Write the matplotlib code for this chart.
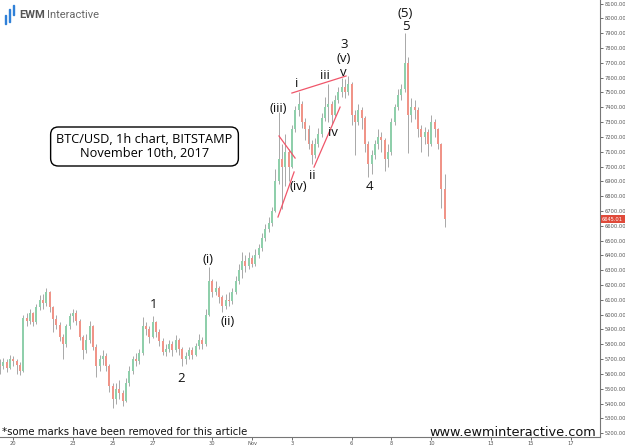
import matplotlib
matplotlib.use("Agg")
import matplotlib.pyplot as plt
import matplotlib.dates as mdates
import pandas as pd
import numpy as np

first_open = 5660
closes = [5650, 5680, 5640, 5700, 5690, 5660, 5620, 5980, 5960, 6010,
          5950, 6050, 6100, 6080, 6150, 6050, 5970, 5930, 5850, 5800,
          5920, 5990, 6010, 5960, 5850, 5760, 5830, 5920, 5780, 5650,
          5700, 5720, 5650, 5520, 5430, 5500, 5470, 5420, 5540, 5620,
          5700, 5690, 5740, 5920, 5900, 5850, 5950, 5880, 5820, 5750,
          5770, 5800, 5760, 5830, 5770, 5700, 5720, 5760, 5730, 5790,
          5830, 5800, 6000, 6230, 6150, 6180, 6120, 6060, 6100, 6090,
          6150, 6230, 6300, 6360, 6330, 6380, 6340, 6400, 6450, 6520,
          6580, 6620, 6700, 6900, 7050, 7000, 7100, 7000, 7250, 7380,
          7420, 7300, 7250, 7150, 7080, 7150, 7220, 7330, 7400, 7420,
          7350, 7450, 7500, 7540, 7500, 7560, 7350, 7300, 7380, 7330,
          7150, 7020, 7080, 7150, 7200, 7180, 7050, 7100, 7300, 7400,
          7480, 7520, 7700, 7350, 7400, 7380, 7250, 7200, 7230, 7150,
          7300, 7250, 7150, 6850, 6645]
highs = [5700, 5710, 5700, 5730, 5720, 5700, 5680, 6000, 6010, 6040,
         6020, 6070, 6130, 6140, 6180, 6160, 6060, 6000, 5950, 5870,
         5940, 6010, 6040, 6030, 5970, 5860, 5870, 5960, 5930, 5800,
         5730, 5760, 5740, 5670, 5540, 5540, 5560, 5490, 5570, 5650,
         5720, 5740, 5770, 5985, 5950, 5920, 5990, 5960, 5900, 5840,
         5800, 5830, 5820, 5860, 5840, 5780, 5750, 5780, 5780, 5810,
         5870, 5850, 6040, 6320, 6240, 6230, 6190, 6130, 6140, 6150,
         6180, 6260, 6340, 6420, 6400, 6420, 6400, 6440, 6480, 6550,
         6610, 6660, 6730, 6980, 7370, 7150, 7220, 7120, 7280, 7410,
         7500, 7440, 7330, 7280, 7180, 7190, 7260, 7360, 7470, 7560,
         7440, 7480, 7540, 7600, 7590, 7610, 7570, 7380, 7420, 7400,
         7340, 7170, 7110, 7180, 7250, 7230, 7190, 7150, 7330, 7420,
         7520, 7560, 7900, 7740, 7460, 7450, 7400, 7280, 7270, 7250,
         7350, 7320, 7260, 7160, 6950]
lows = [5600, 5630, 5610, 5630, 5650, 5600, 5590, 5610, 5920, 5940,
        5920, 5940, 6030, 6040, 6060, 6020, 5880, 5900, 5820, 5700,
        5780, 5900, 5950, 5930, 5830, 5700, 5740, 5810, 5760, 5580,
        5620, 5660, 5620, 5480, 5370, 5400, 5430, 5380, 5410, 5520,
        5600, 5650, 5670, 5730, 5860, 5810, 5840, 5850, 5790, 5730,
        5720, 5750, 5720, 5750, 5730, 5650, 5670, 5700, 5700, 5720,
        5770, 5770, 5790, 5990, 6120, 6130, 6080, 6020, 6040, 6060,
        6070, 6140, 6210, 6250, 6290, 6310, 6320, 6330, 6380, 6430,
        6500, 6560, 6600, 6690, 6880, 6710, 6870, 6900, 6990, 7230,
        7340, 7260, 7180, 7120, 7015, 7060, 7130, 7200, 7310, 7300,
        7290, 7340, 7430, 7470, 7460, 7480, 7280, 7080, 7280, 7250,
        7100, 6930, 6950, 7050, 7120, 7100, 6970, 7000, 7080, 7280,
        7380, 7450, 7500, 7090, 7300, 7320, 7200, 7100, 7150, 7070,
        7140, 7200, 7120, 6720, 6590]
last_price = "6645.01"

tick_days = ["2017-10-20", "2017-10-23", "2017-10-25", "2017-10-27", "2017-10-30",
             "2017-11-01", "2017-11-03", "2017-11-06", "2017-11-08", "2017-11-10",
             "2017-11-13", "2017-11-15", "2017-11-17"]
tick_labels = ["20", "23", "25", "27", "30", "Nov", "3", "6", "8", "10", "13", "15", "17"]
price_ticks = list(range(5200, 8101, 100))

wave_labels = ["1", "2", "(i)", "(ii)", "(iii)", "(iv)", "i", "ii", "iii", "iv",
               "v", "(v)", "3", "4", "5", "(5)"]
wave_times = ["2017-10-27 01:00", "2017-10-28 11:00", "2017-10-29 18:30", "2017-10-30 19:00",
              "2017-11-02 07:40", "2017-11-03 07:40", "2017-11-03 05:45", "2017-11-04 00:45",
              "2017-11-04 15:50", "2017-11-05 02:00", "2017-11-05 14:00", "2017-11-05 14:00",
              "2017-11-05 15:00", "2017-11-06 22:00", "2017-11-08 17:00", "2017-11-08 17:00"]
wave_prices = [6070, 5570, 6369, 5957, 7393, 6863, 7557, 6942, 7617, 7230,
               7634, 7726, 7822, 6863, 7943, 8034]

# red trend lines: start time, start price, end time, end price
line_t0 = ["2017-11-02 08:24", "2017-11-02 07:12", "2017-11-03 00:00", "2017-11-04 02:38"]
line_p0 = [7206, 6659, 7496, 6996]
line_t1 = ["2017-11-03 03:50", "2017-11-03 02:38", "2017-11-05 17:17", "2017-11-05 10:05"]
line_p1 = [7057, 6963, 7611, 7401]

times = pd.date_range("2017-10-19 08:00", periods=len(closes), freq="4h")
x = mdates.date2num(times.to_pydatetime())
opens = np.array([first_open] + closes[:-1], dtype=float)
closes_a = np.array(closes, dtype=float)
up = closes_a >= opens

fig = plt.figure(figsize=(6.25, 4.47), dpi=100)
ax = fig.add_axes([0, 10 / 447, 600 / 625, 437 / 447])

ax.vlines(x, lows, highs, color="#a8a8a8", lw=0.7, zorder=2)
body_lo = np.minimum(opens, closes_a)
body_h = np.maximum(np.abs(closes_a - opens), 4)
ax.bar(x[up], body_h[up], bottom=body_lo[up], width=0.1, color="#8fcfab", zorder=3)
ax.bar(x[~up], body_h[~up], bottom=body_lo[~up], width=0.1, color="#f09488", zorder=3)

for t0, p0, t1, p1 in zip(line_t0, line_p0, line_t1, line_p1):
    ax.plot(mdates.date2num([pd.Timestamp(t0), pd.Timestamp(t1)]), [p0, p1],
            color="#f0566a", lw=0.9, zorder=4)

for lab, t, p in zip(wave_labels, wave_times, wave_prices):
    ax.text(mdates.date2num(pd.Timestamp(t)), p, lab, ha="center", va="center",
            fontsize=9.5, family="Open Sans", color="#111111", zorder=5)

ax.set_xlim(mdates.date2num(pd.Timestamp("2017-10-19 08:00")),
            mdates.date2num(pd.Timestamp("2017-11-18 11:30")))
ax.set_ylim(5174, 8124)

ax.set_xticks(mdates.date2num(pd.to_datetime(tick_days).to_pydatetime()))
ax.set_xticklabels(tick_labels)
ax.set_yticks(price_ticks)
ax.set_yticklabels([f"{v}.00" for v in price_ticks])
ax.yaxis.tick_right()
for s in ["left", "top"]:
    ax.spines[s].set_visible(False)
for s in ["right", "bottom"]:
    ax.spines[s].set_color("#777777")
    ax.spines[s].set_linewidth(0.8)
ax.tick_params(axis="both", labelsize=3.7, colors="#555555", length=2, width=0.6, pad=1)

ax.annotate(last_price, xy=(1, float(closes[-1])), xycoords=("axes fraction", "data"),
            xytext=(1.5, 0), textcoords="offset points", ha="left", va="center",
            fontsize=3.7, color="white",
            bbox=dict(boxstyle="square,pad=0.3", fc="#e04a3a", ec="none"))

# title box
fig.text(144.5 / 625, 1 - 146.5 / 447, "BTC/USD, 1h chart, BITSTAMP\nNovember 10th, 2017",
         ha="center", va="center", fontsize=9.2, family="Open Sans", linespacing=1.15,
         bbox=dict(boxstyle="round,pad=0.45,rounding_size=0.6", fc="white", ec="black", lw=1))

# logo
for bx, by, bh in [(4.5, 15, 9), (8.5, 9, 13), (12.5, 5, 10)]:
    fig.patches.append(plt.Rectangle((bx / 625, 1 - (by + bh) / 447), 1.8 / 625, bh / 447,
                                     transform=fig.transFigure, color="#2f80d8"))
ewm = fig.text(19 / 625, 1 - 15 / 447, "EWM", fontsize=8, weight="bold", family="Roboto",
               color="#555555", va="center", ha="left")
fig.canvas.draw()
ewm_end = ewm.get_window_extent().x1 / fig.bbox.width
fig.text(ewm_end + 2 / 625, 1 - 15 / 447, "Interactive", fontsize=8, family="Roboto",
         color="#666666", va="center", ha="left")

fig.text(2 / 625, 1 - 432 / 447, "*some marks have been removed for this article",
         fontsize=7.3, color="#111111", va="center", ha="left")
fig.text(596 / 625, 1 - 432 / 447, "www.ewminteractive.com",
         fontsize=9.3, color="#111111", va="center", ha="right")

fig.savefig("out.png", dpi=100)
